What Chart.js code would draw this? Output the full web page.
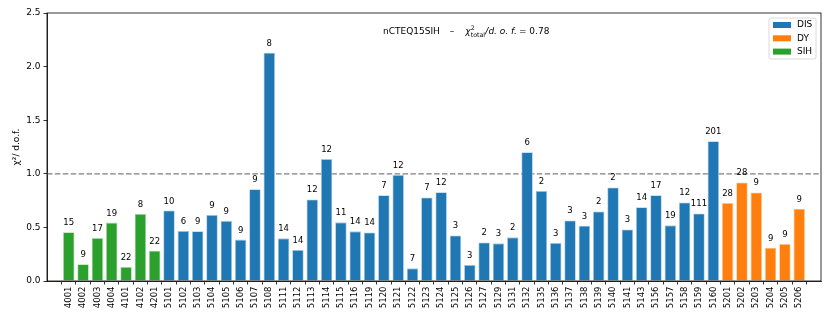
<!DOCTYPE html>
<html>
<head>
<meta charset="utf-8">
<script src="https://cdn.jsdelivr.net/npm/chart.js@4"></script>
<style>
  html, body { margin: 0; padding: 0; background: #fff; }
  canvas { display: block; }
</style>
</head>
<body>
<canvas id="c" width="830" height="320"></canvas>
<script>
// datasets in axis order: SIH, DIS, DY
const sihLabels = ['4001', '4002', '4003', '4004', '4101', '4102', '4201'];
const sihChi2 = [0.455, 0.156, 0.40, 0.545, 0.13, 0.626, 0.283];
const sihDof = [15, 9, 17, 19, 22, 8, 22];

const disLabels = ['5101', '5102', '5103', '5104', '5105', '5106', '5107', '5108', '5111', '5112',
  '5113', '5114', '5115', '5116', '5119', '5120', '5121', '5122', '5123', '5124',
  '5125', '5126', '5127', '5129', '5131', '5132', '5135', '5136', '5137', '5138',
  '5139', '5140', '5141', '5143', '5156', '5157', '5158', '5159', '5160'];
const disChi2 = [0.657, 0.467, 0.464, 0.616, 0.56, 0.386, 0.856, 2.13, 0.398, 0.289,
  0.761, 1.137, 0.547, 0.463, 0.453, 0.801, 0.99, 0.118, 0.78, 0.829,
  0.425, 0.149, 0.36, 0.351, 0.407, 1.202, 0.839, 0.354, 0.565, 0.516,
  0.649, 0.873, 0.481, 0.689, 0.801, 0.519, 0.733, 0.63, 1.304];
const disDof = [10, 6, 9, 9, 9, 9, 9, 8, 14, 14,
  12, 12, 11, 14, 14, 7, 12, 7, 7, 12,
  3, 3, 2, 3, 2, 6, 2, 3, 3, 3,
  2, 2, 3, 14, 17, 19, 12, 111, 201];

const dyLabels = ['5201', '5202', '5203', '5204', '5205', '5206'];
const dyChi2 = [0.727, 0.919, 0.826, 0.311, 0.345, 0.674];
const dyDof = [28, 28, 9, 9, 9, 9];

const yTicks = [0, 0.5, 1.0, 1.5, 2.0, 2.5];
const refLine = 1.0;
const chi2Total = 0.78;

const allLabels = [...sihLabels, ...disLabels, ...dyLabels];
const FONT = 'DejaVu Sans';

function points(vals, offset) {
  return vals.map((v, i) => ({ x: offset + i, y: v }));
}

const groups = [
  { label: 'DIS', color: '#1f77b4', edge: '#a5c9e3', data: points(disChi2, sihLabels.length), dof: disDof },
  { label: 'DY', color: '#ff7f0e', edge: '#ffc796', data: points(dyChi2, sihLabels.length + disLabels.length), dof: dyDof },
  { label: 'SIH', color: '#2ca02c', edge: '#a3d6a3', data: points(sihChi2, 0), dof: sihDof }
];

const frame = {
  id: 'frame',
  beforeDatasetsDraw(chart) {
    const { ctx, chartArea: a, scales: { y } } = chart;
    const py = y.getPixelForValue(refLine);
    ctx.save();
    ctx.strokeStyle = '#7f7f7f';
    ctx.lineWidth = 1.3;
    ctx.setLineDash([5.5, 2.4]);
    ctx.beginPath();
    ctx.moveTo(a.left, py);
    ctx.lineTo(a.right, py);
    ctx.stroke();
    ctx.restore();
  },
  afterDatasetsDraw(chart) {
    const { ctx, chartArea: a } = chart;
    ctx.save();
    // dof counts above bars
    ctx.fillStyle = '#000';
    ctx.font = '8.5px "' + FONT + '"';
    ctx.textAlign = 'center';
    ctx.textBaseline = 'alphabetic';
    chart.data.datasets.forEach((ds, di) => {
      chart.getDatasetMeta(di).data.forEach((bar, i) => {
        ctx.fillText(String(ds.dof[i]), bar.x, bar.y - 7);
      });
    });

    // box round axes
    ctx.strokeStyle = '#000';
    ctx.lineWidth = 0.8;
    ctx.strokeRect(a.left, a.top, a.right - a.left, a.bottom - a.top);

    // title text
    let x = a.left + 336;
    const base = a.top + 21;
    const put = (txt, size, dy, italic) => {
      ctx.font = (italic ? 'italic ' : '') + size + 'px "' + FONT + '"';
      ctx.textAlign = 'left';
      ctx.fillText(txt, x, base + dy);
      return ctx.measureText(txt).width;
    };
    x += put('nCTEQ15SIH', 9, 0, false);
    x += 10;
    x += put('\u2013', 9, 0, false);
    x += 11;
    const chiW = put('\u03c7', 9, 0, true);
    const sx = x + chiW;
    x = sx;
    put('2', 6.3, -4.5, false);
    const wSub = put('total', 6.3, 2.5, false);
    x = sx + wSub + 0.3;
    x += put('/d. o. f.', 9, 0, true);
    x += 2;
    put('= ' + chi2Total.toFixed(2), 9, 0, false);

    // legend
    const lx = a.right - 52, ly = a.top + 5, lw = 47, lh = 41;
    ctx.fillStyle = 'rgba(255,255,255,0.8)';
    ctx.strokeStyle = '#d0d0d0';
    ctx.lineWidth = 0.8;
    ctx.beginPath();
    ctx.roundRect(lx, ly, lw, lh, 2);
    ctx.fill();
    ctx.stroke();
    ctx.font = '9px "' + FONT + '"';
    ctx.textBaseline = 'middle';
    chart.data.datasets.forEach((ds, i) => {
      const ry = ly + 7 + i * 13.3;
      ctx.fillStyle = ds.backgroundColor;
      ctx.fillRect(lx + 4, ry - 3, 18, 6);
      ctx.fillStyle = '#000';
      ctx.fillText(ds.label, lx + 28, ry);
    });
    ctx.restore();
  }
};

new Chart(document.getElementById('c'), {
  type: 'bar',
  data: {
    datasets: groups.map(g => ({
      label: g.label,
      data: g.data,
      dof: g.dof,
      backgroundColor: g.color,
      borderColor: g.edge,
      borderWidth: 0.8,
      grouped: false,
      barPercentage: 1,
      categoryPercentage: 0.8
    }))
  },
  options: {
    responsive: false,
    animation: false,
    layout: { padding: { top: 13, right: 9, left: 0, bottom: 0 } },
    plugins: {
      legend: { display: false },
      tooltip: { enabled: false }
    },
    scales: {
      x: {
        type: 'linear',
        min: -1,
        max: allLabels.length,
        afterBuildTicks(scale) {
          scale.ticks = allLabels.map((_, i) => ({ value: i }));
        },
        afterFit(scale) { scale.height = 39; },
        ticks: {
          autoSkip: false,
          minRotation: 90,
          maxRotation: 90,
          padding: 2,
          color: '#000',
          font: { family: FONT, size: 8.5 },
          callback: v => allLabels[v] || ''
        },
        grid: { drawOnChartArea: false, drawTicks: true, tickLength: 3.5, color: '#000', lineWidth: 0.8 },
        border: { color: '#000', width: 0.8 }
      },
      y: {
        min: 0,
        max: 2.5,
        afterBuildTicks(scale) {
          scale.ticks = yTicks.map(v => ({ value: v }));
        },
        afterFit(scale) { scale.width = 47; },
        ticks: {
          padding: 3,
          color: '#000',
          font: { family: FONT, size: 9 },
          callback: v => Number(v).toFixed(1)
        },
        title: {
          display: true,
          text: '\u03c7\u00b2/ d.o.f.',
          color: '#000',
          font: { family: FONT, size: 9 },
          padding: { top: 11, bottom: 0 }
        },
        grid: { drawOnChartArea: false, drawTicks: true, tickLength: 3.5, color: '#000', lineWidth: 0.8 },
        border: { color: '#000', width: 0.8 }
      }
    }
  },
  plugins: [frame]
});
</script>
</body>
</html>
